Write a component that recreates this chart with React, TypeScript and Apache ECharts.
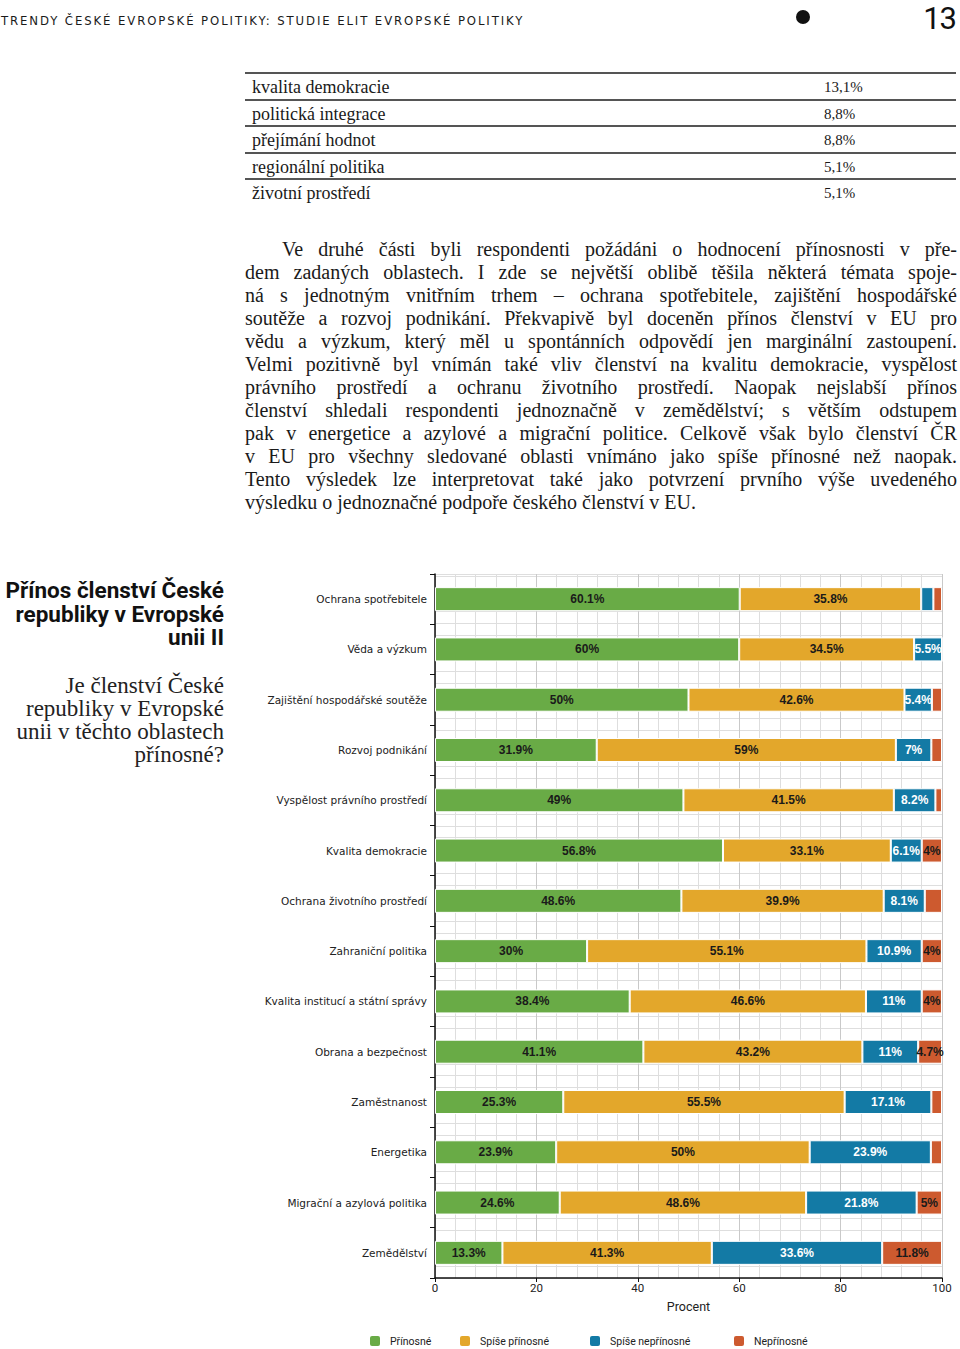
import React, { useEffect, useRef } from "react";
import * as echarts from "echarts";

const categories = [
  "Ochrana spotřebitele",
  "Věda a výzkum",
  "Zajištění hospodářské soutěže",
  "Rozvoj podnikání",
  "Vyspělost právního prostředí",
  "Kvalita demokracie",
  "Ochrana životního prostředí",
  "Zahraniční politika",
  "Kvalita institucí a státní správy",
  "Obrana a bezpečnost",
  "Zaměstnanost",
  "Energetika",
  "Migrační a azylová politika",
  "Zemědělství",
];
const prinosne = [60.1, 60, 50, 31.9, 49, 56.8, 48.6, 30, 38.4, 41.1, 25.3, 23.9, 24.6, 13.3];
const spisePrinosne = [35.8, 34.5, 42.6, 59, 41.5, 33.1, 39.9, 55.1, 46.6, 43.2, 55.5, 50, 48.6, 41.3];
const spiseNeprinosne = [2.4, 5.5, 5.4, 7, 8.2, 6.1, 8.1, 10.9, 11, 11, 17.1, 23.9, 21.8, 33.6];
const neprinosne = [1.7, 0, 2.0, 2.1, 1.3, 4, 3.4, 4, 4, 4.7, 2.1, 2.2, 5, 11.8];
const seriesNames = ["Přínosné", "Spíše přínosné", "Spíše nepřínosné", "Nepřínosné"];
const xTicks = [0, 20, 40, 60, 80, 100];

const tableLabels = ["kvalita demokracie", "politická integrace", "přejímání hodnot", "regionální politika", "životní prostředí"];
const tableValues = ["13,1%", "8,8%", "8,8%", "5,1%", "5,1%"];

const paragraphLines = [
  "Ve druhé části byli respondenti požádáni o hodnocení přínosnosti v pře-",
  "dem zadaných oblastech. I zde se největší oblibě těšila některá témata spoje-",
  "ná s jednotným vnitřním trhem – ochrana spotřebitele, zajištění hospodářské",
  "soutěže a rozvoj podnikání. Překvapivě byl doceněn přínos členství v EU pro",
  "vědu a výzkum, který měl u spontánních odpovědí jen marginální zastoupení.",
  "Velmi pozitivně byl vnímán také vliv členství na kvalitu demokracie, vyspělost",
  "právního prostředí a ochranu životního prostředí. Naopak nejslabší přínos",
  "členství shledali respondenti jednoznačně v zemědělství; s větším odstupem",
  "pak v energetice a azylové a migrační politice. Celkově však bylo členství ČR",
  "v EU pro všechny sledované oblasti vnímáno jako spíše přínosné než naopak.",
  "Tento výsledek lze interpretovat také jako potvrzení prvního výše uvedeného",
  "výsledku o jednoznačné podpoře českého členství v EU.",
];

const titleLines = ["Přínos členství České", "republiky v Evropské", "unii II"];
const subtitleLines = ["Je členství České", "republiky v Evropské", "unii v těchto oblastech", "přínosné?"];

const COLORS = ["#69ab46", "#e3a72b", "#137aa5", "#cd5a2f"];
const LABEL_COLORS = ["#1a1a1a", "#1a1a1a", "#ffffff", "#1a1a1a"];
const NARROW = "'DejaVu Sans Condensed', 'Liberation Sans', sans-serif";
const SERIF = "'Liberation Serif', 'DejaVu Serif', serif";
const SANS = "Roboto, 'Liberation Sans', sans-serif";

function Chart() {
  const ref = useRef<HTMLDivElement>(null);
  useEffect(() => {
    if (!ref.current) return;
    const chart = echarts.init(ref.current, undefined, { renderer: "svg" });
    const data = [prinosne, spisePrinosne, spiseNeprinosne, neprinosne];
    const legendLefts = [368, 458, 588, 732];
    chart.setOption({
      animation: false,
      grid: { left: 435, right: 18, top: 14, height: 704 },
      xAxis: {
        type: "value",
        min: 0,
        max: 100,
        interval: 20,
        axisLine: { show: true, lineStyle: { color: "#111", width: 1.5 } },
        axisTick: { show: true, length: 4, lineStyle: { color: "#111" } },
        axisLabel: {
          fontSize: 11.5,
          fontFamily: SANS,
          color: "#222",
          margin: 4,
          formatter: (v: number) => (xTicks.includes(v) ? String(v) : ""),
        },
        splitLine: { show: true, lineStyle: { color: "#c9c9c9", width: 1 } },
        minorTick: { show: false, splitNumber: 5 },
        minorSplitLine: { show: true, lineStyle: { color: "#dedede", width: 1 } },
        name: "Procent",
        nameLocation: "middle",
        nameGap: 22,
        nameTextStyle: { fontSize: 12.5, fontFamily: SANS, color: "#222" },
      },
      yAxis: [
        {
          type: "category",
          inverse: true,
          data: categories,
          axisLine: { show: true, lineStyle: { color: "#111", width: 1.5 } },
          axisTick: { show: true, length: 5, lineStyle: { color: "#111" } },
          axisLabel: { fontSize: 10.5, fontFamily: "'DejaVu Sans', sans-serif", color: "#222", margin: 8 },
          splitLine: { show: false },
        },
        {
          type: "value",
          min: 0,
          max: 704 / 11.9,
          interval: 1,
          position: "right",
          axisLine: { show: false },
          axisTick: { show: false },
          axisLabel: { show: false },
          splitLine: { show: true, lineStyle: { color: "#dedede", width: 1 } },
        },
      ],
      legend: seriesNames.map((n, i) => ({
        data: [n],
        left: legendLefts[i],
        top: 774,
        padding: 0,
        itemWidth: 12,
        itemHeight: 12,
        itemGap: 10,
        icon: "roundRect",
        textStyle: { fontSize: 10.5, fontFamily: SANS, color: "#222", padding: [0, 0, 0, 4] },
        selectedMode: false,
      })),
      series: seriesNames.map((n, i) => ({
        name: n,
        type: "bar",
        stack: "total",
        yAxisIndex: 0,
        barWidth: 24,
        data: data[i],
        itemStyle: { color: COLORS[i], borderColor: "#ffffff", borderWidth: 1 },
        label: {
          show: true,
          position: "inside",
          fontSize: 12,
          fontWeight: "bold",
          fontFamily: "'Liberation Sans', Arial, sans-serif",
          color: LABEL_COLORS[i],
          formatter: (p: any) => (p.value >= 4 ? `${p.value}%` : ""),
        },
      })),
    });
    return () => chart.dispose();
  }, []);
  return <div ref={ref} style={{ position: "absolute", left: 0, top: 560, width: 960, height: 789 }} />;
}

export default function App() {
  return (
    <div style={{ position: "absolute", left: 0, top: 0, width: 960, height: 1349, background: "#fff", overflow: "hidden", color: "#1a1a1a" }}>
      <div style={{ position: "absolute", left: 1, top: 13, height: 16, lineHeight: "16px", fontFamily: NARROW, fontSize: 13, letterSpacing: 1.9, whiteSpace: "nowrap" }}>
        TRENDY ČESKÉ EVROPSKÉ POLITIKY: STUDIE ELIT EVROPSKÉ POLITIKY
      </div>
      <div style={{ position: "absolute", left: 796, top: 10, width: 14, height: 14, borderRadius: 7, background: "#111" }} />
      <div
        style={{
          position: "absolute",
          right: 4,
          top: 0,
          lineHeight: "normal",
          fontFamily: SANS,
          fontSize: 31,
          letterSpacing: -1,
          color: "#111",
        }}
      >
        13
      </div>

      {tableLabels.map((t, i) => (
        <React.Fragment key={t}>
          <div style={{ position: "absolute", left: 245, top: 72 + 26.5 * i, width: 711, height: 2, background: "#555" }} />
          <div style={{ position: "absolute", left: 252, top: 74 + 26.5 * i, lineHeight: "26px", fontFamily: SERIF, fontSize: 18, whiteSpace: "nowrap" }}>{t}</div>
          <div style={{ position: "absolute", left: 824, top: 74 + 26.5 * i, lineHeight: "26px", fontFamily: SERIF, fontSize: 15, whiteSpace: "nowrap" }}>{tableValues[i]}</div>
        </React.Fragment>
      ))}

      <div style={{ position: "absolute", left: 245, top: 237.5, width: 712, fontFamily: SERIF, fontSize: 20, lineHeight: "23px" }}>
        {paragraphLines.map((l, i) => (
          <div
            key={i}
            style={{
              textAlign: "justify",
              textAlignLast: i === paragraphLines.length - 1 ? "left" : "justify",
              paddingLeft: i === 0 ? 37 : 0,
              whiteSpace: "nowrap",
              height: 23,
            }}
          >
            {l}
          </div>
        ))}
      </div>

      <div
        style={{
          position: "absolute",
          right: 736,
          top: 579,
          textAlign: "right",
          fontFamily: SANS,
          fontWeight: "bold",
          fontSize: 22.5,
          lineHeight: "23.5px",
          color: "#111",
          whiteSpace: "nowrap",
        }}
      >
        {titleLines.map((l) => (
          <div key={l}>{l}</div>
        ))}
      </div>
      <div style={{ position: "absolute", right: 736, top: 673.5, textAlign: "right", fontFamily: SERIF, fontSize: 23, lineHeight: "23px", color: "#222", whiteSpace: "nowrap" }}>
        {subtitleLines.map((l) => (
          <div key={l}>{l}</div>
        ))}
      </div>

      <Chart />
    </div>
  );
}
